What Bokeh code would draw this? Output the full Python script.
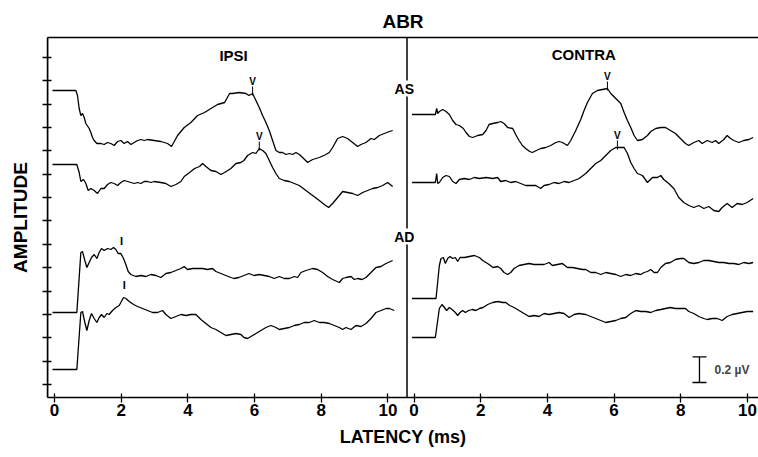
from bokeh.plotting import figure
from bokeh.models import Range1d, LinearAxis, FixedTicker, Span, Label, CustomLabelingPolicy
from bokeh.embed import file_html
from bokeh.resources import INLINE
from bokeh.core.properties import value

FONT = "Liberation Sans"

# ---------------- data (latency in ms, amplitude in units of 1/128 uV, traces offset) -------------
lat_ticks = [0, 2, 4, 6, 8, 10]
amp_ticks = [13 + 23.36 * k for k in range(15)]

ipsi_as_upper_t = [-0.06, 0.64, 0.69, 0.74, 0.79, 0.84, 0.89, 0.94, 1.04, 1.09, 1.14, 1.19, 1.27,
                   1.39, 1.49, 1.59, 1.69, 1.79, 1.89, 1.99, 2.09, 2.19, 2.29, 2.39, 2.49, 2.59, 2.69,
                   2.79, 2.99, 3.19, 3.39, 3.51, 3.69, 3.89, 4.09, 4.29, 4.50, 4.69, 4.89, 5.10, 5.25,
                   5.34, 5.53, 5.74, 5.83, 5.94, 6.04, 6.14, 6.24, 6.34, 6.44, 6.54, 6.64, 6.74, 6.84,
                   6.94, 7.04, 7.14, 7.24, 7.34, 7.44, 7.59, 7.74, 7.94, 8.14, 8.24, 8.34, 8.49, 8.64,
                   8.79, 8.94, 9.09, 9.19, 9.34, 9.49, 9.59, 9.74, 9.89, 10.04, 10.14]
ipsi_as_upper_a = [307, 307, 302, 289, 282, 284, 280, 274, 269, 265, 260, 257, 254,
                   254, 253, 255, 254, 252, 256, 257, 254, 256, 253, 255, 257, 258, 257,
                   258, 257, 256, 254, 251, 262, 270, 275, 282, 285, 289, 293, 295, 304,
                   304, 305, 304, 302, 304, 297, 290, 282, 275, 267, 257, 247, 245, 245,
                   243, 244, 243, 245, 243, 240, 235, 238, 240, 243, 245, 250, 259, 261,
                   259, 255, 251, 253, 255, 259, 258, 262, 264, 266, 267]

ipsi_as_lower_t = [-0.06, 0.67, 0.74, 0.79, 0.87, 0.94, 1.01, 1.09, 1.19, 1.29, 1.39, 1.49, 1.59,
                   1.69, 1.79, 1.89, 1.99, 2.09, 2.19, 2.29, 2.39, 2.49, 2.59, 2.69, 2.79, 2.89, 2.99,
                   3.19, 3.34, 3.49, 3.64, 3.79, 3.89, 4.05, 4.20, 4.35, 4.44, 4.54, 4.69, 4.84, 4.99,
                   5.10, 5.29, 5.44, 5.59, 5.68, 5.79, 5.94, 6.04, 6.14, 6.24, 6.34, 6.44, 6.54, 6.64,
                   6.74, 6.89, 7.04, 7.19, 7.34, 7.54, 7.74, 7.94, 8.09, 8.22, 8.34, 8.49, 8.64, 8.79,
                   8.94, 9.09, 9.24, 9.39, 9.54, 9.69, 9.84, 9.99, 10.14]
ipsi_as_lower_a = [233, 233, 225, 216, 218, 214, 207, 209, 207, 204, 209, 209, 213,
                   215, 214, 212, 215, 217, 216, 215, 214, 215, 214, 216, 216, 215, 216,
                   215, 214, 211, 213, 216, 221, 225, 229, 231, 234, 231, 227, 226, 223,
                   225, 229, 234, 235, 237, 242, 245, 244, 249, 247, 244, 237, 230, 224,
                   219, 217, 216, 214, 212, 207, 202, 197, 193, 190, 194, 200, 206, 205,
                   204, 202, 205, 207, 209, 210, 212, 215, 211]

ipsi_ad_upper_t = [-0.06, 0.67, 0.79, 0.84, 0.91, 0.97, 1.04, 1.11, 1.19, 1.27, 1.34, 1.41, 1.49,
                   1.59, 1.69, 1.77, 1.84, 1.91, 1.99, 2.07, 2.14, 2.21, 2.29, 2.44, 2.59, 2.74, 2.89,
                   3.04, 3.19, 3.34, 3.49, 3.64, 3.79, 3.89, 3.99, 4.14, 4.29, 4.44, 4.59, 4.74, 4.84,
                   4.99, 5.14, 5.29, 5.38, 5.53, 5.68, 5.83, 5.98, 6.14, 6.29, 6.44, 6.59, 6.74, 6.89,
                   7.04, 7.19, 7.29, 7.39, 7.54, 7.74, 7.89, 8.04, 8.19, 8.34, 8.54, 8.64, 8.74, 8.89,
                   8.99, 9.09, 9.22, 9.34, 9.49, 9.64, 9.79, 9.94, 10.14]
ipsi_ad_upper_a = [85, 85, 145, 146, 137, 130, 135, 140, 143, 139, 145, 149, 147,
                   149, 148, 150, 148, 144, 144, 139, 133, 126, 123, 121, 122, 121, 123,
                   122, 120, 124, 125, 127, 129, 131, 128, 129, 129, 129, 128, 129, 126,
                   124, 122, 120, 119, 120, 122, 124, 122, 123, 122, 121, 119, 121, 119,
                   119, 121, 120, 125, 127, 129, 128, 125, 121, 118, 115, 119, 120, 121,
                   118, 119, 118, 120, 125, 130, 131, 134, 137]

ipsi_ad_lower_t = [-0.06, 0.67, 0.79, 0.84, 0.91, 0.97, 1.04, 1.11, 1.19, 1.27, 1.34, 1.41, 1.49,
                   1.57, 1.64, 1.74, 1.84, 1.94, 2.07, 2.14, 2.24, 2.37, 2.49, 2.64, 2.79, 2.94, 3.09,
                   3.24, 3.34, 3.49, 3.64, 3.79, 3.94, 4.09, 4.24, 4.39, 4.54, 4.69, 4.84, 4.99, 5.14,
                   5.29, 5.44, 5.59, 5.68, 5.79, 5.89, 6.04, 6.19, 6.34, 6.49, 6.64, 6.74, 6.89, 7.04,
                   7.19, 7.34, 7.49, 7.64, 7.79, 7.94, 8.09, 8.24, 8.39, 8.54, 8.64, 8.74, 8.89, 9.04,
                   9.19, 9.34, 9.49, 9.64, 9.79, 9.94, 10.04, 10.19]
ipsi_ad_lower_a = [28, 28, 85, 86, 75, 67, 77, 84, 79, 75, 80, 83, 80,
                   84, 83, 87, 90, 92, 100, 99, 96, 93, 91, 89, 87, 85, 85,
                   87, 83, 79, 81, 83, 82, 83, 83, 78, 74, 70, 68, 65, 62,
                   63, 64, 63, 60, 59, 61, 64, 67, 70, 72, 70, 68, 69, 70,
                   72, 73, 75, 75, 77, 75, 75, 74, 72, 70, 68, 70, 68, 72,
                   71, 74, 79, 85, 87, 89, 89, 87]

contra_as_upper_t = [-0.06, 0.64, 0.68, 0.71, 0.76, 0.86, 0.96, 1.06, 1.16, 1.26, 1.36, 1.48, 1.56,
                     1.66, 1.76, 1.91, 2.06, 2.16, 2.25, 2.36, 2.51, 2.60, 2.70, 2.81, 2.96, 3.05,
                     3.15, 3.25, 3.35, 3.47, 3.55, 3.67, 3.80, 3.95, 4.10, 4.25, 4.35, 4.45, 4.60,
                     4.70, 4.85, 5.00, 5.10, 5.20, 5.35, 5.50, 5.65, 5.80, 5.90, 6.05, 6.20, 6.30,
                     6.40, 6.50, 6.60, 6.70, 6.85, 7.00, 7.10, 7.25, 7.40, 7.54, 7.69, 7.84, 7.99,
                     8.14, 8.24, 8.39, 8.54, 8.64, 8.79, 8.94, 9.04, 9.14, 9.29, 9.39, 9.49, 9.59,
                     9.74, 9.89, 10.04, 10.17]
contra_as_upper_a = [283, 283, 289, 284, 286, 288, 286, 283, 277, 273, 272, 269, 265,
                     261, 260, 262, 263, 267, 273, 274, 275, 276, 274, 270, 269, 263,
                     257, 252, 249, 246, 245, 247, 249, 250, 252, 255, 256, 255, 252,
                     257, 267, 278, 287, 295, 304, 307, 308, 309, 304, 299, 294, 285,
                     277, 270, 262, 257, 258, 262, 266, 269, 270, 270, 267, 264, 259,
                     254, 252, 255, 257, 254, 257, 255, 257, 254, 258, 262, 259, 257,
                     255, 257, 258, 260]

contra_as_lower_t = [-0.06, 0.64, 0.68, 0.71, 0.76, 0.86, 0.96, 1.06, 1.16, 1.26, 1.36, 1.51, 1.66,
                     1.81, 1.96, 2.16, 2.36, 2.51, 2.60, 2.75, 2.90, 3.05, 3.20, 3.35, 3.50, 3.65,
                     3.80, 3.90, 4.05, 4.20, 4.35, 4.50, 4.65, 4.80, 4.95, 5.15, 5.30, 5.45, 5.60,
                     5.75, 5.90, 6.05, 6.20, 6.30, 6.40, 6.50, 6.60, 6.70, 6.85, 7.00, 7.15, 7.30,
                     7.40, 7.49, 7.64, 7.79, 7.94, 8.09, 8.24, 8.39, 8.54, 8.69, 8.84, 8.99, 9.14,
                     9.24, 9.39, 9.54, 9.69, 9.84, 9.99, 10.17]
contra_as_lower_a = [215, 215, 224, 214, 215, 220, 222, 221, 216, 214, 218, 219, 218,
                     220, 219, 220, 219, 220, 216, 217, 215, 216, 214, 212, 212, 212,
                     209, 212, 213, 215, 214, 216, 215, 217, 219, 224, 229, 234, 237,
                     242, 247, 250, 250, 250, 244, 235, 229, 224, 222, 215, 220, 220,
                     222, 218, 214, 209, 200, 195, 192, 190, 192, 189, 191, 187, 186,
                     190, 194, 190, 194, 193, 195, 199]

contra_ad_upper_t = [-0.06, 0.66, 0.76, 0.81, 0.88, 0.94, 1.01, 1.08, 1.16, 1.24, 1.31, 1.38, 1.51,
                     1.66, 1.81, 1.96, 2.06, 2.16, 2.25, 2.37, 2.51, 2.60, 2.70, 2.81, 2.90, 3.00,
                     3.15, 3.30, 3.45, 3.60, 3.75, 3.90, 4.05, 4.15, 4.30, 4.45, 4.60, 4.75, 4.90,
                     5.05, 5.15, 5.30, 5.45, 5.60, 5.75, 5.90, 6.05, 6.20, 6.35, 6.50, 6.65, 6.80,
                     6.90, 7.00, 7.10, 7.20, 7.30, 7.40, 7.54, 7.69, 7.84, 7.99, 8.09, 8.24, 8.39,
                     8.54, 8.69, 8.84, 8.99, 9.14, 9.29, 9.44, 9.59, 9.74, 9.89, 10.04, 10.17]
contra_ad_upper_a = [99, 99, 132, 139, 140, 134, 139, 141, 139, 140, 136, 140, 140,
                     141, 142, 140, 137, 135, 133, 130, 131, 129, 125, 123, 125, 129,
                     132, 133, 134, 133, 133, 133, 135, 132, 133, 134, 130, 130, 129,
                     128, 128, 125, 125, 123, 125, 124, 123, 121, 123, 122, 124, 123,
                     125, 126, 128, 125, 125, 130, 134, 135, 138, 139, 139, 135, 134,
                     135, 137, 137, 136, 135, 135, 134, 134, 133, 135, 134, 135]

contra_ad_lower_t = [-0.06, 0.64, 0.76, 0.84, 0.91, 0.98, 1.06, 1.14, 1.24, 1.31, 1.38, 1.46, 1.54,
                     1.64, 1.74, 1.86, 1.96, 2.07, 2.21, 2.36, 2.51, 2.66, 2.75, 2.87, 3.00, 3.15,
                     3.30, 3.45, 3.60, 3.75, 3.90, 4.05, 4.20, 4.35, 4.50, 4.65, 4.80, 4.95, 5.15,
                     5.30, 5.45, 5.60, 5.75, 5.90, 6.05, 6.20, 6.35, 6.50, 6.65, 6.80, 6.95, 7.10,
                     7.25, 7.40, 7.54, 7.69, 7.84, 7.99, 8.14, 8.24, 8.39, 8.54, 8.69, 8.79, 8.94,
                     9.09, 9.24, 9.39, 9.54, 9.69, 9.84, 9.99, 10.17]
contra_ad_lower_a = [60, 60, 89, 93, 90, 87, 90, 88, 85, 82, 85, 87, 85,
                     87, 88, 87, 89, 90, 93, 95, 96, 95, 95, 92, 90, 87,
                     84, 81, 82, 81, 84, 83, 84, 85, 84, 80, 83, 84, 83,
                     81, 79, 77, 75, 76, 77, 79, 80, 84, 87, 86, 86, 85,
                     87, 88, 89, 90, 89, 89, 89, 86, 84, 81, 79, 78, 79,
                     79, 77, 81, 83, 84, 85, 86, 86]

# wave markers (latency ms, amplitude at the peak)
ipsi_v_t = [5.94, 6.14]
ipsi_v_a = [304, 249]
contra_v_t = [5.80, 6.10]
contra_v_a = [309, 250]
ipsi_i_t = [2.01, 2.09]
ipsi_i_a = [144, 100]

UNITS_PER_UV = 128
scale_uv = 0.2
scale_t = 8.56
scale_base = 15

# ---------------- figure -------------
L0, L1 = -0.21, 10.57   # IPSI panel extent (ms)
R0, R1 = -0.21, 10.33   # CONTRA panel extent (ms)
shift = L1 - R0         # CONTRA latency -> shared x coordinate

p = figure(width=758, height=457, output_backend="svg", toolbar_location=None,
           x_range=Range1d(L0, L1 + (R1 - R0)), y_range=Range1d(0, 360),
           x_axis_type=None, y_axis_type=None,
           min_border_left=47, min_border_right=0, min_border_top=37, min_border_bottom=60)
p.extra_x_ranges = {"contra": Range1d(R0 - (L1 - L0), R1)}
p.outline_line_color = None
p.background_fill_color = "white"
p.border_fill_color = "white"

p.title.text = "ABR"
p.title.align = "center"
p.title.text_font = FONT
p.title.text_font_size = "19px"
p.title.text_font_style = "bold"
p.title.text_color = "black"
p.title.standoff = 12


def style_axis(ax):
    ax.axis_line_color = "black"
    ax.axis_line_width = 1.5
    ax.major_tick_line_color = "black"
    ax.major_tick_line_width = 1.3
    ax.minor_tick_line_color = None
    ax.major_label_text_font = FONT
    ax.major_label_text_font_style = "bold"
    ax.major_label_text_font_size = "17px"
    ax.major_label_text_color = "black"
    ax.axis_label_text_font = FONT
    ax.axis_label_text_font_style = "bold"
    ax.axis_label_text_font_size = "18px"
    ax.axis_label_text_color = "black"


no_labels = CustomLabelingPolicy(code="""
const keep = [];
for (const i of indices) keep.push(i);
for (const i of keep) indices.unset(i);
return indices;
""")

contra_pos = [t + shift for t in lat_ticks]
overrides = {t: str(t) for t in lat_ticks}
overrides.update({pos: str(t) for t, pos in zip(lat_ticks, contra_pos)})
xa = LinearAxis(ticker=FixedTicker(ticks=lat_ticks + contra_pos), major_label_overrides=overrides,
                axis_label="LATENCY (ms)")
style_axis(xa)
xa.major_tick_in = 4
xa.major_tick_out = 5
xa.major_label_standoff = 1
xa.axis_label_standoff = 8
p.add_layout(xa, "below")

ya = LinearAxis(ticker=FixedTicker(ticks=amp_ticks), axis_label="AMPLITUDE")
style_axis(ya)
ya.major_label_text_font_size = "0px"
ya.major_label_policy = no_labels
ya.major_tick_in = 4
ya.major_tick_out = 5
ya.axis_label_text_font_size = "19px"
ya.axis_label_standoff = 12
p.add_layout(ya, "left")

top = LinearAxis(ticker=FixedTicker(ticks=[]))
style_axis(top)
top.major_tick_line_color = None
top.major_tick_in = 0
top.major_tick_out = 0
top.major_label_standoff = 0
top.major_label_text_font_size = "0px"
p.add_layout(top, "above")

p.add_layout(Span(location=L0, dimension="height", line_color="black", line_width=1.5))
p.add_layout(Span(location=L1, dimension="height", line_color="black", line_width=1.5))

LW = 1.3
for t, a in [(ipsi_as_upper_t, ipsi_as_upper_a), (ipsi_as_lower_t, ipsi_as_lower_a),
             (ipsi_ad_upper_t, ipsi_ad_upper_a), (ipsi_ad_lower_t, ipsi_ad_lower_a)]:
    p.line(t, a, line_color="black", line_width=LW)
for t, a in [(contra_as_upper_t, contra_as_upper_a), (contra_as_lower_t, contra_as_lower_a),
             (contra_ad_upper_t, contra_ad_upper_a), (contra_ad_lower_t, contra_ad_lower_a)]:
    p.line(t, a, line_color="black", line_width=LW, x_range_name="contra")

# wave markers
mk = dict(text_font=value(FONT), text_font_style="bold", text_align="center",
          text_baseline="bottom", text_color="black")
p.text(x=ipsi_v_t, y=ipsi_v_a, text=["V"] * len(ipsi_v_t), y_offset=-7, text_font_size="10px", **mk)
p.segment(x0=ipsi_v_t, y0=[a - 2 for a in ipsi_v_a], x1=ipsi_v_t, y1=[a + 7 for a in ipsi_v_a],
          line_color="black", line_width=1)
p.text(x=contra_v_t, y=contra_v_a, text=["V"] * len(contra_v_t), y_offset=-7, text_font_size="10px",
       x_range_name="contra", **mk)
p.segment(x0=contra_v_t, y0=[a - 2 for a in contra_v_a], x1=contra_v_t, y1=[a + 7 for a in contra_v_a],
          line_color="black", line_width=1, x_range_name="contra")
p.text(x=ipsi_i_t, y=ipsi_i_a, text=["I"] * len(ipsi_i_t), y_offset=-7, text_font_size="11px", **mk)

# panel labels
lab = dict(text_font=FONT, text_font_style="bold", text_color="black",
           text_align="center", text_baseline="middle")
p.add_layout(Label(x=5.37, y=342, text="IPSI", text_font_size="15px", **lab))
p.add_layout(Label(x=5.09, y=343, text="CONTRA", text_font_size="15px", x_range_name="contra", **lab))
p.add_layout(Label(x=L1 - 0.08, y=309, text="AS", text_font_size="14px", background_fill_color="white", **lab))
p.add_layout(Label(x=L1 - 0.08, y=161, text="AD", text_font_size="14px", background_fill_color="white", **lab))

# calibration bar 0.2 uV
sb_top = scale_base + scale_uv * UNITS_PER_UV
p.segment(x0=[scale_t], y0=[scale_base], x1=[scale_t], y1=[sb_top],
          line_color="black", line_width=1.3, x_range_name="contra")
p.scatter(x=[scale_t, scale_t], y=[scale_base, sb_top], marker="dash", size=14,
          line_color="black", line_width=1.3, x_range_name="contra")
p.add_layout(Label(x=scale_t + 0.45, y=(scale_base + sb_top) / 2, text="0.2 \u00b5V",
                   text_font=FONT, text_font_size="12px", text_font_style="bold",
                   text_align="left", text_baseline="middle", x_range_name="contra"))

open("out.html", "w").write(file_html(p, INLINE))
